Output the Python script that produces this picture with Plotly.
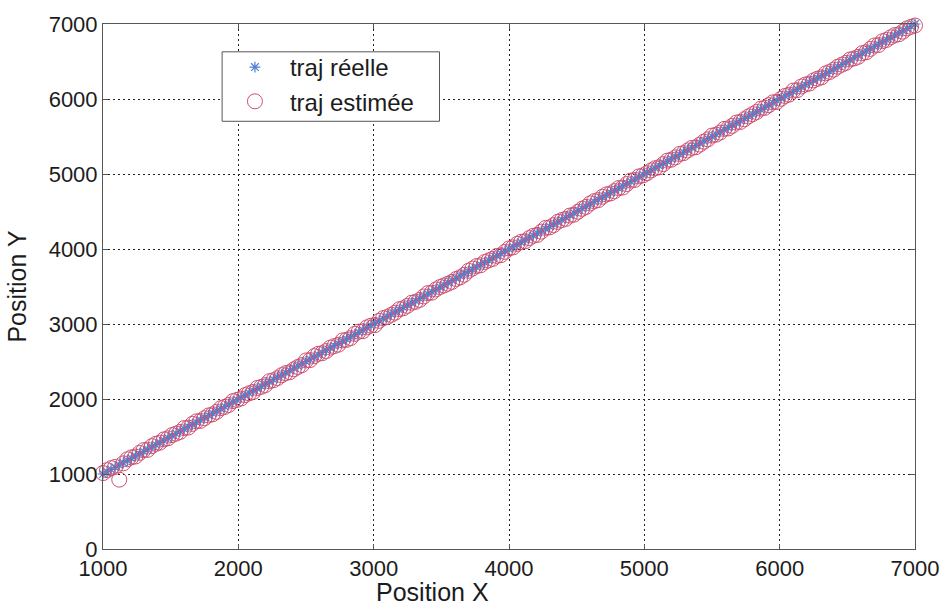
import plotly.graph_objects as go

# Real trajectory samples (x, y)
real_x = [
    1000, 1030, 1060, 1090, 1120, 1150, 1180, 1210, 1240, 1270,
    1300, 1330, 1360, 1390, 1420, 1450, 1480, 1510, 1540, 1570,
    1600, 1630, 1660, 1690, 1720, 1750, 1780, 1810, 1840, 1870,
    1900, 1930, 1960, 1990, 2020, 2050, 2080, 2110, 2140, 2170,
    2200, 2230, 2260, 2290, 2320, 2350, 2380, 2410, 2440, 2470,
    2500, 2530, 2560, 2590, 2620, 2650, 2680, 2710, 2740, 2770,
    2800, 2830, 2860, 2890, 2920, 2950, 2980, 3010, 3040, 3070,
    3100, 3130, 3160, 3190, 3220, 3250, 3280, 3310, 3340, 3370,
    3400, 3430, 3460, 3490, 3520, 3550, 3580, 3610, 3640, 3670,
    3700, 3730, 3760, 3790, 3820, 3850, 3880, 3910, 3940, 3970,
    4000, 4030, 4060, 4090, 4120, 4150, 4180, 4210, 4240, 4270,
    4300, 4330, 4360, 4390, 4420, 4450, 4480, 4510, 4540, 4570,
    4600, 4630, 4660, 4690, 4720, 4750, 4780, 4810, 4840, 4870,
    4900, 4930, 4960, 4990, 5020, 5050, 5080, 5110, 5140, 5170,
    5200, 5230, 5260, 5290, 5320, 5350, 5380, 5410, 5440, 5470,
    5500, 5530, 5560, 5590, 5620, 5650, 5680, 5710, 5740, 5770,
    5800, 5830, 5860, 5890, 5920, 5950, 5980, 6010, 6040, 6070,
    6100, 6130, 6160, 6190, 6220, 6250, 6280, 6310, 6340, 6370,
    6400, 6430, 6460, 6490, 6520, 6550, 6580, 6610, 6640, 6670,
    6700, 6730, 6760, 6790, 6820, 6850, 6880, 6910, 6940, 6970,
    7000,
]
# The real path runs along the diagonal: y equals x at every sample
real_y = list(real_x)

# Estimated trajectory (same sampling in x, noisy y)
est_x = list(real_x)
est_y = [
    1012, 1051, 1078, 1094, 925, 1142, 1196, 1222, 1233, 1281,
    1318, 1322, 1371, 1402, 1418, 1462, 1476, 1519, 1538, 1561,
    1612, 1619, 1668, 1702, 1708, 1744, 1781, 1796, 1829, 1878,
    1895, 1921, 1972, 1988, 2007, 2052, 2076, 2094, 2147, 2162,
    2186, 2238, 2251, 2279, 2318, 2345, 2357, 2396, 2427, 2452,
    2514, 2519, 2571, 2602, 2611, 2640, 2686, 2706, 2724, 2781,
    2789, 2812, 2868, 2898, 2904, 2955, 2978, 2986, 3042, 3078,
    3093, 3122, 3151, 3198, 3211, 3242, 3283, 3296, 3321, 3367,
    3412, 3418, 3461, 3493, 3514, 3538, 3562, 3601, 3623, 3657,
    3709, 3738, 3772, 3783, 3826, 3848, 3869, 3908, 3917, 3962,
    4007, 4022, 4068, 4096, 4104, 4146, 4177, 4188, 4232, 4281,
    4288, 4319, 4362, 4386, 4402, 4446, 4458, 4497, 4536, 4561,
    4608, 4638, 4652, 4696, 4728, 4741, 4772, 4812, 4819, 4866,
    4912, 4921, 4968, 4982, 5011, 5048, 5077, 5089, 5132, 5178,
    5191, 5222, 5267, 5278, 5314, 5348, 5356, 5392, 5431, 5462,
    5512, 5524, 5553, 5601, 5608, 5642, 5686, 5694, 5731, 5768,
    5798, 5827, 5871, 5882, 5918, 5956, 5962, 6003, 6041, 6058,
    6112, 6118, 6167, 6193, 6206, 6248, 6271, 6289, 6342, 6361,
    6392, 6431, 6458, 6482, 6527, 6541, 6562, 6611, 6624, 6668,
    6713, 6719, 6771, 6788, 6822, 6852, 6862, 6898, 6941, 6962,
    6980,
]

x_ticks = [1000, 2000, 3000, 4000, 5000, 6000, 7000]
y_ticks = [0, 1000, 2000, 3000, 4000, 5000, 6000, 7000]

FONT = "Liberation Sans, Arial, sans-serif"
TEXT_COLOR = "#1c1c1c"
STAR_COLOR = "#4f7fd0"
CIRCLE_COLOR = "#cf4f70"

fig = go.Figure()
fig.add_trace(go.Scatter(
    x=real_x, y=real_y, mode="markers", name="traj réelle",
    cliponaxis=False,
    marker=dict(symbol="asterisk-open", size=9, color=STAR_COLOR,
                line=dict(color=STAR_COLOR, width=1.2)),
))
fig.add_trace(go.Scatter(
    x=est_x, y=est_y, mode="markers", name="traj estimée",
    cliponaxis=False,
    marker=dict(symbol="circle-open", size=15, color=CIRCLE_COLOR,
                line=dict(color=CIRCLE_COLOR, width=1)),
))

axis_common = dict(
    showgrid=True, gridcolor="#222222", gridwidth=1, griddash="2px,3px",
    showline=True, linecolor="#555555", linewidth=1, mirror="ticks",
    ticks="inside", ticklen=5, tickcolor="#555555",
    tickfont=dict(family=FONT, size=22, color=TEXT_COLOR),
    ticklabeloverflow="allow",
    zeroline=False,
)

# Legend frame
fig.add_shape(
    type="rect", xref="paper", yref="paper",
    x0=0.1467, x1=0.4144, y0=0.8147, y1=0.947,
    line=dict(color="#555555", width=1), fillcolor="white", layer="above",
)

# X axis title
fig.add_annotation(
    text="Position X", xref="paper", yref="paper",
    x=0.406, y=-0.082, xanchor="center", yanchor="middle",
    showarrow=False, font=dict(family=FONT, size=25, color=TEXT_COLOR),
)

fig.update_layout(
    width=951, height=610,
    margin=dict(l=103, r=30, t=20, b=61),
    paper_bgcolor="white", plot_bgcolor="white",
    font=dict(family=FONT, size=22, color=TEXT_COLOR),
    showlegend=True,
    legend=dict(
        x=0.144, y=0.96, xanchor="left", yanchor="top",
        bgcolor="rgba(0,0,0,0)", borderwidth=0,
        font=dict(family=FONT, size=24, color=TEXT_COLOR),
        tracegroupgap=0, itemwidth=60,
    ),
    xaxis=dict(range=[1000, 7000], tickvals=x_ticks, **axis_common),
    yaxis=dict(
        range=[0, 7000], tickvals=y_ticks,
        title=dict(text="Position Y", standoff=14,
                   font=dict(family=FONT, size=25, color=TEXT_COLOR)),
        **axis_common,
    ),
)

fig.write_html("out.html")
